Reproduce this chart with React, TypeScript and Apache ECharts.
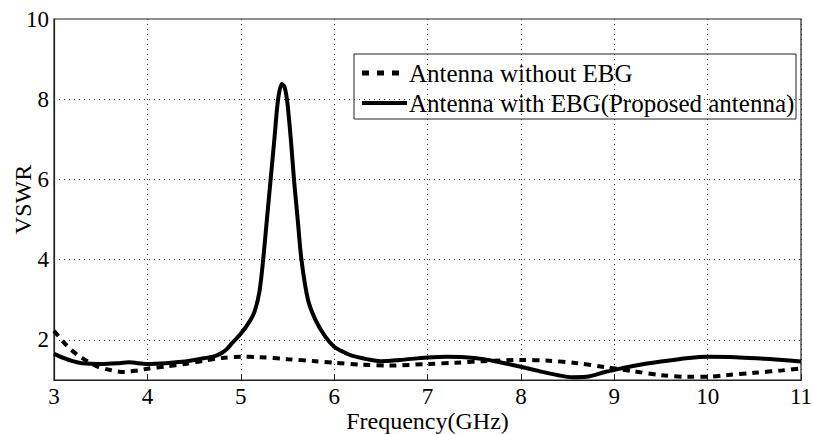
import React, { useEffect, useRef } from "react";
import * as echarts from "echarts";

const freqWithEBG = [3.0, 3.1, 3.2, 3.3, 3.5, 3.7, 3.8, 4.0, 4.2, 4.4, 4.5, 4.6, 4.7, 4.75, 4.8, 4.85, 4.9, 5.0, 5.1, 5.15, 5.2, 5.24, 5.28, 5.32, 5.36, 5.4, 5.44, 5.47, 5.5, 5.54, 5.57, 5.61, 5.65, 5.72, 5.8, 5.9, 6.0, 6.1, 6.2, 6.35, 6.5, 6.7, 7.0, 7.2, 7.4, 7.6, 7.8, 8.0, 8.2, 8.4, 8.55, 8.7, 8.9, 9.0, 9.2, 9.5, 9.8, 10.0, 10.3, 10.6, 10.8, 11.0];
const vswrWithEBG = [1.65, 1.55, 1.47, 1.42, 1.4, 1.42, 1.44, 1.4, 1.42, 1.46, 1.5, 1.54, 1.58, 1.62, 1.68, 1.77, 1.9, 2.15, 2.48, 2.72, 3.2, 4.0, 5.0, 6.0, 7.0, 8.0, 8.38, 8.3, 7.9, 6.9, 6.0, 5.0, 4.0, 3.0, 2.5, 2.1, 1.83, 1.7, 1.6, 1.52, 1.47, 1.5, 1.56, 1.58, 1.57, 1.52, 1.43, 1.33, 1.22, 1.12, 1.07, 1.08, 1.2, 1.25, 1.35, 1.46, 1.55, 1.58, 1.57, 1.53, 1.5, 1.46];

const freqWithoutEBG = [3.0, 3.1, 3.2, 3.3, 3.45, 3.6, 3.75, 3.9, 4.0, 4.2, 4.4, 4.6, 4.8, 5.0, 5.2, 5.5, 5.8, 6.0, 6.3, 6.6, 7.0, 7.3, 7.6, 8.0, 8.3, 8.6, 8.9, 9.2, 9.5, 9.8, 10.0, 10.2, 10.5, 10.8, 11.0];
const vswrWithoutEBG = [2.23, 1.95, 1.72, 1.55, 1.35, 1.25, 1.2, 1.24, 1.28, 1.34, 1.4, 1.48, 1.55, 1.58, 1.57, 1.52, 1.47, 1.43, 1.38, 1.36, 1.4, 1.43, 1.47, 1.5, 1.48, 1.42, 1.32, 1.22, 1.12, 1.08, 1.08, 1.12, 1.18, 1.24, 1.29];

const yGridValues = [2, 4, 6, 8];
const seriesNames = ["Antenna without EBG", "Antenna with EBG(Proposed antenna)"];

const FONT = "'Liberation Serif', 'Times New Roman', serif";
const DASH = [7, 6];

export default function App() {
  const ref = useRef<HTMLDivElement>(null);
  useEffect(() => {
    if (!ref.current) return;
    document.body.style.margin = "0";
    document.body.style.overflow = "hidden";
    const chart = echarts.init(ref.current, null, { renderer: "svg" });
    const gridLine = { color: "#333", width: 1, type: [1, 4] as number[] };
    const legendX = 354;
    const legendY = 54;
    chart.setOption({
      animation: false,
      backgroundColor: "#fff",
      grid: {
        left: 54,
        right: 12,
        top: 19,
        bottom: 54,
        containLabel: false,
        outerBoundsMode: "none",
        show: true,
        borderColor: "#222",
        borderWidth: 1.2,
        backgroundColor: "transparent",
      },
      graphic: [
        {
          type: "group",
          z: 100,
          children: [
            {
              type: "rect",
              shape: { x: legendX, y: legendY, width: 442, height: 65 },
              style: { fill: "#fff", stroke: "#222", lineWidth: 1 },
            },
            {
              type: "line",
              shape: { x1: legendX + 8, y1: legendY + 19, x2: legendX + 45, y2: legendY + 19 },
              style: { stroke: "#000", lineWidth: 5, lineDash: [7, 8] },
            },
            {
              type: "text",
              x: legendX + 55,
              y: legendY + 19,
              style: { text: seriesNames[0], font: `25px ${FONT}`, fill: "#000", verticalAlign: "middle", align: "left" },
            },
            {
              type: "line",
              shape: { x1: legendX + 8, y1: legendY + 49, x2: legendX + 53, y2: legendY + 49 },
              style: { stroke: "#000", lineWidth: 4 },
            },
            {
              type: "text",
              x: legendX + 55,
              y: legendY + 49,
              style: { text: seriesNames[1], font: `25px ${FONT}`, fill: "#000", verticalAlign: "middle", align: "left" },
            },
          ],
        },
      ],
      xAxis: {
        type: "value",
        min: 3,
        max: 11,
        interval: 1,
        name: "Frequency(GHz)",
        nameLocation: "middle",
        nameGap: 29,
        nameMoveOverlap: false,
        nameTextStyle: { fontFamily: FONT, fontSize: 24, color: "#000" },
        axisLine: { show: true, lineStyle: { color: "#222", width: 1.2 } },
        axisTick: { show: true, inside: true, length: 5, lineStyle: { color: "#222" } },
        axisLabel: { fontFamily: FONT, fontSize: 23, color: "#000", margin: 5 },
        splitLine: { show: true, lineStyle: gridLine },
      },
      yAxis: {
        type: "value",
        min: 1,
        max: 10,
        interval: 1,
        name: "VSWR",
        nameLocation: "middle",
        nameGap: 19,
        nameMoveOverlap: false,
        nameTextStyle: { fontFamily: FONT, fontSize: 24, color: "#000" },
        axisLine: { show: true, lineStyle: { color: "#222", width: 1.2 } },
        axisTick: { show: false },
        axisLabel: {
          fontFamily: FONT,
          fontSize: 23,
          color: "#000",
          margin: 5,
          formatter: (v: number) => (v % 2 === 0 ? String(v) : ""),
        },
        splitLine: { show: false },
      },
      series: [
        {
          name: seriesNames[0],
          type: "line",
          data: freqWithoutEBG.map((f, i) => [f, vswrWithoutEBG[i]]),
          symbol: "none",
          smooth: 0.3,
          lineStyle: { color: "#000", width: 4, type: DASH },
          itemStyle: { color: "#000" },
          z: 3,
          markLine: {
            silent: true,
            symbol: "none",
            label: { show: false },
            lineStyle: gridLine,
            data: yGridValues.map((v) => ({ yAxis: v })),
            z: 1,
          },
        },
        {
          name: seriesNames[1],
          type: "line",
          data: freqWithEBG.map((f, i) => [f, vswrWithEBG[i]]),
          symbol: "none",
          smooth: 0.3,
          lineStyle: { color: "#000", width: 4, type: "solid" },
          itemStyle: { color: "#000" },
          z: 4,
        },
      ],
    });
    return () => chart.dispose();
  }, []);
  return (
    <div
      ref={ref}
      style={{ position: "fixed", left: 0, top: 0, width: 813, height: 434 }}
    />
  );
}
